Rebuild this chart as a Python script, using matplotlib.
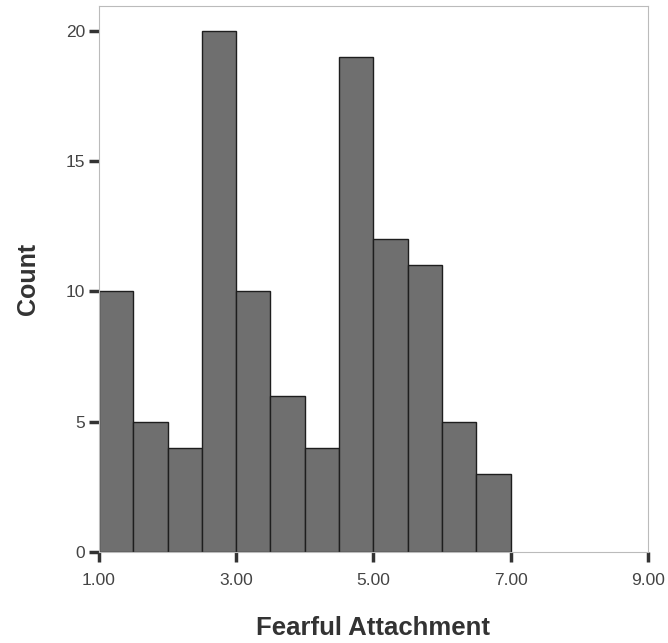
import matplotlib
matplotlib.use("Agg")
import matplotlib.pyplot as plt
import numpy as np

# histogram bins (width 0.5) and counts
bin_edges = [1.0, 1.5, 2.0, 2.5, 3.0, 3.5, 4.0, 4.5, 5.0, 5.5, 6.0, 6.5, 7.0]
counts = [10, 5, 4, 20, 10, 6, 4, 19, 12, 11, 5, 3]
x_ticks = [1.0, 3.0, 5.0, 7.0, 9.0]
x_labels = ["1.00", "3.00", "5.00", "7.00", "9.00"]
y_ticks = [0, 5, 10, 15, 20]

plt.rcParams['font.family'] = ['Liberation Sans', 'DejaVu Sans']

fig = plt.figure(figsize=(6.68, 6.43), dpi=100)
ax = fig.add_axes([0.148, 0.1415, 0.822, 0.849])

lefts = np.array(bin_edges[:-1])
widths = np.diff(bin_edges)
ax.bar(lefts, counts, width=widths, align='edge', color='#6f6f6f',
       edgecolor='#1e1e1e', linewidth=1.0)

ax.set_xlim(1.0, 9.0)
ax.set_ylim(0, 20.95)
ax.set_xticks(x_ticks)
ax.set_xticklabels(x_labels)
ax.set_yticks(y_ticks)

for s in ax.spines.values():
    s.set_color('#bbbbbb')
    s.set_linewidth(0.8)

ax.tick_params(axis='both', direction='out', length=7, width=2.5,
               color='#333333', labelsize=12.5, labelcolor='#444444')
ax.tick_params(axis='x', pad=8)
ax.tick_params(axis='y', pad=3)

ax.set_xlabel('Fearful Attachment', fontsize=18.5, fontweight='bold',
              color='#333333', labelpad=20)
ax.set_ylabel('Count', fontsize=18, fontweight='bold', color='#333333',
              labelpad=18)

fig.savefig('out.png', dpi=100)
